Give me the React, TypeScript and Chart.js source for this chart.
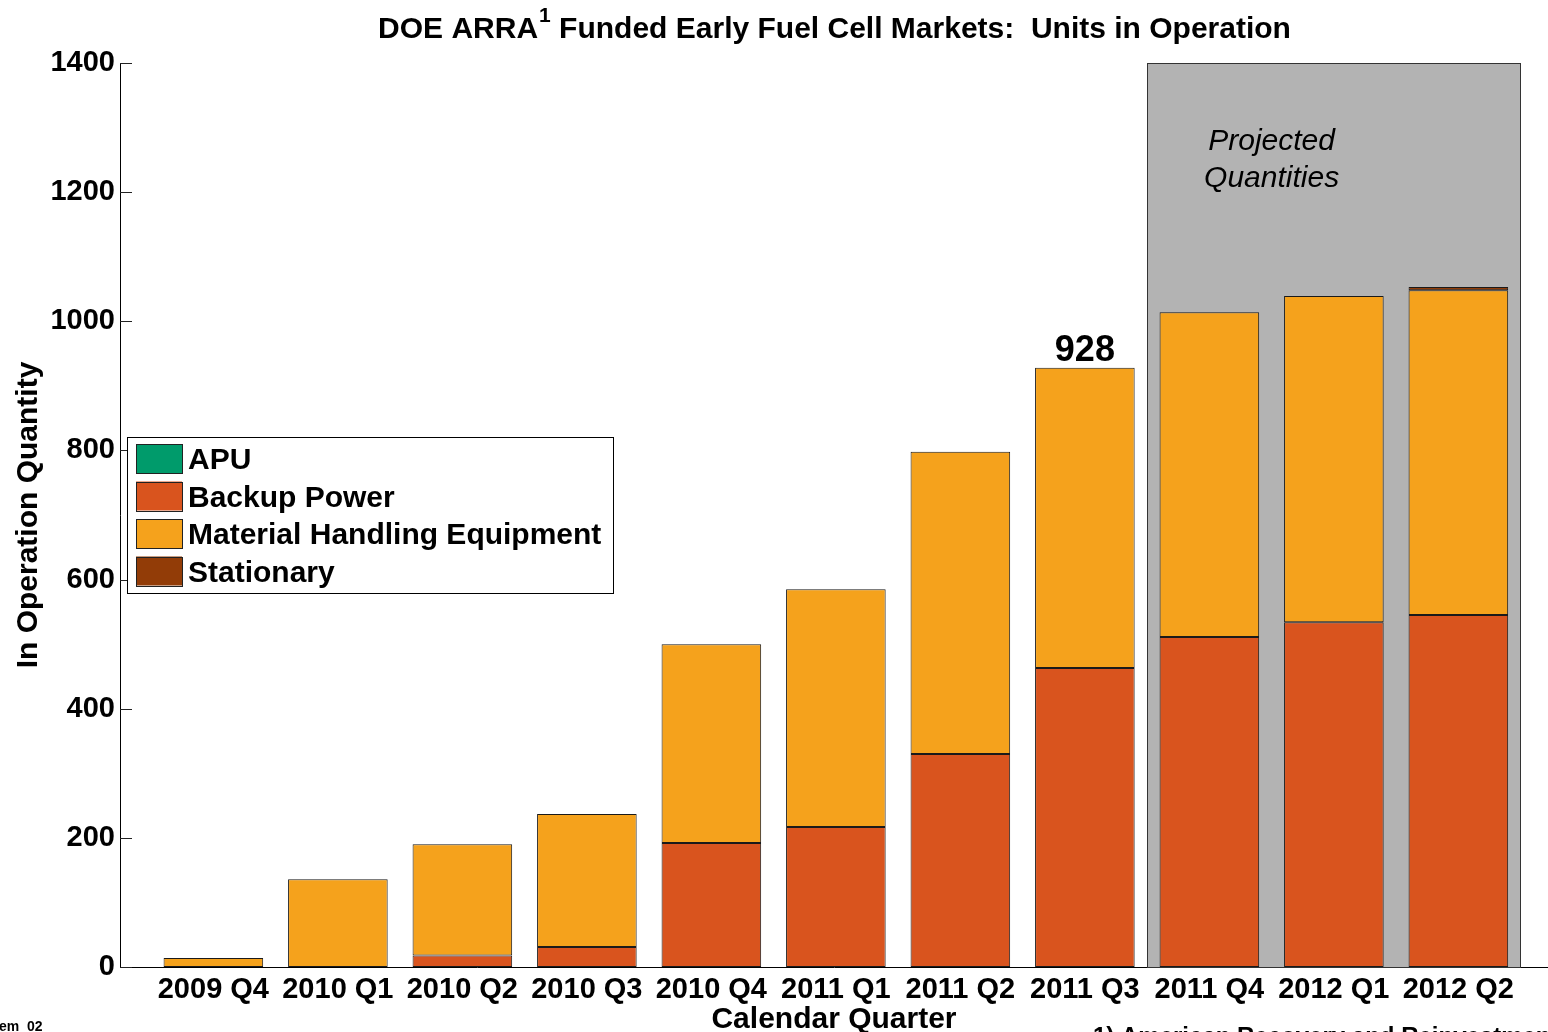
import React, { useEffect, useRef } from 'react';
import { Chart, registerables } from 'chart.js';

Chart.register(...registerables);

const FONT = "'Liberation Sans', Arial, sans-serif";

const categories = ['2009 Q4', '2010 Q1', '2010 Q2', '2010 Q3', '2010 Q4', '2011 Q1', '2011 Q2', '2011 Q3', '2011 Q4', '2012 Q1', '2012 Q2'];
const apu = [0, 0, 0, 0, 0, 0, 0, 0, 0, 0, 0];
const backupPower = [0, 0, 18, 31, 192, 217, 330, 463, 511, 534, 545];
const materialHandling = [14, 136, 172, 206, 308, 368, 468, 465, 503, 505, 503];
const stationary = [0, 0, 0, 0, 0, 0, 0, 0, 0, 0, 5];
const yTicks = [0, 200, 400, 600, 800, 1000, 1200, 1400];
const projectedStart = 7.5;
const projectedEnd = 10.5;
const highlightIndex = 7;
const projectedLabelX = 8.5;
const projectedLabelY = [1265, 1208];

const seriesNames = ['APU', 'Backup Power', 'Material Handling Equipment', 'Stationary'];
const seriesColors = ['#009B6B', '#D9541E', '#F5A21C', '#923C07'];
const seriesValues = [apu, backupPower, materialHandling, stationary];

const decorPlugin = {
  id: 'decor',
  beforeDatasetsDraw(chart: any) {
    const { ctx, scales, chartArea } = chart;
    const x0 = scales.x.getPixelForValue(projectedStart);
    const x1 = scales.x.getPixelForValue(projectedEnd);
    ctx.save();
    ctx.fillStyle = '#B3B3B3';
    ctx.fillRect(x0, chartArea.top, x1 - x0, chartArea.bottom - chartArea.top);
    ctx.strokeStyle = '#333';
    ctx.lineWidth = 1;
    ctx.strokeRect(Math.round(x0) + 0.5, Math.round(chartArea.top) + 0.5, Math.round(x1 - x0), Math.round(chartArea.bottom - chartArea.top));
    ctx.restore();
  },
  afterDraw(chart: any) {
    const { ctx, scales, chartArea } = chart;
    ctx.save();
    // inner y ticks
    ctx.strokeStyle = '#222';
    ctx.lineWidth = 1;
    yTicks.forEach((v) => {
      const y = Math.round(scales.y.getPixelForValue(v)) + 0.5;
      ctx.beginPath();
      ctx.moveTo(chartArea.left, y);
      ctx.lineTo(chartArea.left + 12, y);
      ctx.stroke();
    });

    // title with superscript
    const p1 = 'DOE ARRA';
    const sup = '1';
    const p2 = ' Funded Early Fuel Cell Markets:  Units in Operation';
    ctx.fillStyle = '#000';
    ctx.textBaseline = 'alphabetic';
    ctx.textAlign = 'left';
    ctx.font = `bold 30px ${FONT}`;
    const w1 = ctx.measureText(p1).width;
    const w3 = ctx.measureText(p2).width;
    ctx.font = `bold 21px ${FONT}`;
    const w2 = ctx.measureText(sup).width;
    const cx = (chartArea.left + chartArea.right) / 2;
    let tx = cx - (w1 + w2 + w3) / 2;
    ctx.font = `bold 30px ${FONT}`;
    ctx.fillText(p1, tx, 38);
    tx += w1 + 1;
    ctx.font = `bold 21px ${FONT}`;
    ctx.fillText(sup, tx, 22);
    tx += w2;
    ctx.font = `bold 30px ${FONT}`;
    ctx.fillText(p2, tx, 38);

    // 928 label
    const total = seriesValues.reduce((s, arr) => s + arr[highlightIndex], 0);
    ctx.font = `bold 36px ${FONT}`;
    ctx.textAlign = 'center';
    ctx.fillText(String(total), scales.x.getPixelForValue(highlightIndex), scales.y.getPixelForValue(total) - 7);

    // projected label
    ctx.font = `italic 30px ${FONT}`;
    ctx.fillText('Projected', scales.x.getPixelForValue(projectedLabelX), scales.y.getPixelForValue(projectedLabelY[0]));
    ctx.fillText('Quantities', scales.x.getPixelForValue(projectedLabelX), scales.y.getPixelForValue(projectedLabelY[1]));

    // legend
    const lx = 127, ly = 437, lw = 486, lh = 156;
    ctx.fillStyle = '#fff';
    ctx.fillRect(lx, ly, lw, lh);
    ctx.strokeStyle = '#000';
    ctx.strokeRect(lx + 0.5, ly + 0.5, lw, lh);
    ctx.textAlign = 'left';
    ctx.textBaseline = 'middle';
    ctx.font = `bold 30px ${FONT}`;
    seriesNames.forEach((name, i) => {
      const sy = 444 + i * 37.5;
      ctx.fillStyle = seriesColors[i];
      ctx.fillRect(136, sy, 46, 29);
      ctx.strokeStyle = '#222';
      ctx.strokeRect(136.5, Math.round(sy) + 0.5, 46, 29);
      ctx.fillStyle = '#000';
      ctx.fillText(name, 188, sy + 17);
    });

    // footnotes (cut off at page edges)
    ctx.textBaseline = 'alphabetic';
    ctx.font = `bold 14px ${FONT}`;
    ctx.fillText('em_02', -1, 1031);
    ctx.font = `bold 24px ${FONT}`;
    ctx.fillText('1) American Recovery and Reinvestment Act', 1093, 1044);
    ctx.restore();
  },
};

export default function App() {
  const ref = useRef<HTMLCanvasElement | null>(null);
  useEffect(() => {
    if (!ref.current) return;
    const datasets = seriesNames.map((name, i) => ({
      label: name,
      data: seriesValues[i].map((v, j) => ({ x: j, y: v })),
      backgroundColor: seriesColors[i],
      borderColor: '#1a1a1a',
      borderWidth: 1,
      borderSkipped: false as any,
      barPercentage: 0.8,
      categoryPercentage: 1,
    }));
    const chart = new Chart(ref.current, {
      type: 'bar',
      data: { datasets },
      plugins: [decorPlugin],
      options: {
        animation: false,
        responsive: true,
        maintainAspectRatio: false,
        layout: { padding: { top: 63, left: 0, right: 0, bottom: 0 } },
        plugins: { legend: { display: false }, title: { display: false }, tooltip: { enabled: false } },
        scales: {
          x: {
            type: 'linear',
            stacked: true,
            min: -0.75,
            max: 10.72,
            offset: false,
            afterBuildTicks: (s: any) => { s.ticks = categories.map((_, i) => ({ value: i })); },
            afterFit: (s: any) => { s.height = 65; },
            grid: { display: false, drawTicks: false },
            border: { display: true, color: '#000', width: 1 },
            ticks: {
              autoSkip: false,
              maxRotation: 0,
              padding: 6,
              color: '#000',
              font: { family: FONT, size: 29, weight: 'bold' },
              callback: (v: any) => categories[v] ?? '',
            },
            title: { display: true, text: 'Calendar Quarter', color: '#000', font: { family: FONT, size: 30, weight: 'bold', lineHeight: 0.8 }, padding: { top: 0, bottom: 0 } },
          },
          y: {
            stacked: true,
            min: 0,
            max: 1400,
            afterBuildTicks: (s: any) => { s.ticks = yTicks.map((v) => ({ value: v })); },
            afterFit: (s: any) => { s.width = 120; },
            grid: { display: false, drawTicks: false },
            border: { display: true, color: '#000', width: 1 },
            ticks: { padding: 5, color: '#000', font: { family: FONT, size: 29, weight: 'bold' }, callback: (v: any) => String(v) },
            title: { display: true, text: 'In Operation Quantity', color: '#000', font: { family: FONT, size: 30, weight: 'bold' }, padding: { top: 11, bottom: 0 } },
          },
        },
      } as any,
    });
    return () => chart.destroy();
  }, []);
  return (
    <div style={{ position: 'fixed', left: 0, top: 0, width: 1548, height: 1032, background: '#fff' }}>
      <canvas ref={ref} />
    </div>
  );
}
